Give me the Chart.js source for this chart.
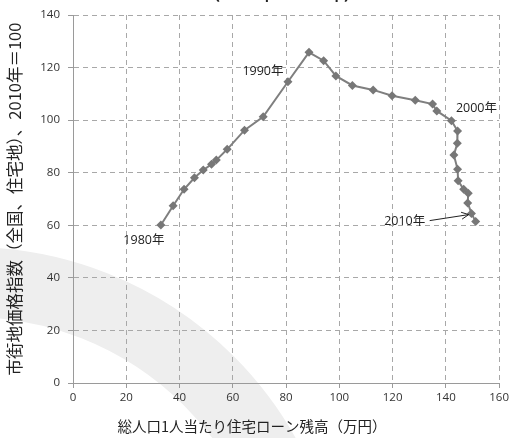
<!DOCTYPE html>
<html>
<head>
<meta charset="utf-8">
<script src="https://cdn.jsdelivr.net/npm/chart.js@4/dist/chart.umd.min.js"></script>
<style>
  html, body { margin: 0; padding: 0; background: #ffffff; }
  #wrap { width: 512px; height: 438px; }
</style>
</head>
<body>
<div id="wrap"><canvas id="c" width="512" height="438"></canvas></div>
<script>
// Housing loan balance per capita (10k yen) vs. urban land price index, 1980–2010
const years = [1980,1981,1982,1983,1984,1985,1986,1987,1988,1989,1990,
               1991,1992,1993,1994,1995,1996,1997,1998,1999,2000,
               2001,2002,2003,2004,2005,2006,2007,2008,2009,2010];
const loanBalance = [33.0,37.6,41.7,45.6,48.9,52.0,53.8,57.9,64.4,71.4,80.7,
                     88.6,94.1,98.7,104.9,112.7,119.8,128.5,135.0,136.6,142.1,
                     144.4,144.3,143.0,144.4,144.6,146.7,148.4,148.2,149.6,151.2];
const landIndex = [60.1,67.4,73.7,78.1,81.0,83.2,84.8,88.9,96.2,101.3,114.6,
                   125.8,122.6,116.8,113.2,111.5,109.3,107.6,106.1,103.5,99.8,
                   95.9,91.2,86.7,81.3,76.9,73.7,72.2,68.5,64.5,61.4];
const xTicks = [0,20,40,60,80,100,120,140,160];
const yTicks = [0,20,40,60,80,100,120,140];
const markedYears = [1980,1990,2000,2010];
const xTitle = '総人口1人当たり住宅ローン残高（万円）';
const yTitle = '市街地価格指数（全国、住宅地）、2010年＝100';
const heading = '（1980年～2010年）';

const FONT = "'Open Sans', 'Noto Sans CJK JP', sans-serif";
const CJK = "'Noto Sans CJK JP', 'Open Sans', sans-serif";

const points = loanBalance.map((x, i) => ({ x: x, y: landIndex[i] }));

// white page with a soft grey swoosh behind the plot
const backdrop = {
  id: 'backdrop',
  beforeDraw(chart) {
    const ctx = chart.ctx;
    ctx.save();
    ctx.fillStyle = '#ffffff';
    ctx.fillRect(0, 0, chart.width, chart.height);
    ctx.strokeStyle = '#eeeeee';
    ctx.lineWidth = 70;
    ctx.beginPath();
    ctx.arc(-30, 620, 338, 0, Math.PI * 2);
    ctx.stroke();
    ctx.restore();
  }
};

// heading at the top edge and the horizontal axis caption
const captions = {
  id: 'captions',
  afterDraw(chart) {
    const ctx = chart.ctx;
    ctx.save();
    ctx.fillStyle = '#222';
    ctx.textAlign = 'center';
    ctx.font = "bold 16px " + CJK;
    ctx.textBaseline = 'alphabetic';
    ctx.fillText(heading, 282, 0);
    ctx.font = "14.5px " + CJK;
    ctx.textBaseline = 'middle';
    ctx.fillText(xTitle, 252, 426);
    ctx.restore();
  }
};

// year labels next to selected points, with an arrow for the last one
const yearTags = {
  id: 'yearTags',
  afterDatasetsDraw(chart) {
    const ctx = chart.ctx;
    const xs = chart.scales.x, ys = chart.scales.y;
    const offsets = {
      1980: [-17, 15],
      1990: [-25, -10],
      2000: [25, -12],
      2010: [-71, 0]
    };
    ctx.save();
    ctx.fillStyle = '#222';
    ctx.font = "12.5px " + FONT;
    ctx.textAlign = 'center';
    ctx.textBaseline = 'middle';
    markedYears.forEach(yr => {
      const i = years.indexOf(yr);
      const px = xs.getPixelForValue(loanBalance[i]);
      const py = ys.getPixelForValue(landIndex[i]);
      const o = offsets[yr];
      ctx.fillText(yr + '年', px + o[0], py + o[1]);
      if (yr === 2010) {
        const sx = px - 46, sy = py - 1;
        const ex = px - 7, ey = py - 7;
        ctx.strokeStyle = '#222';
        ctx.lineWidth = 1;
        ctx.beginPath();
        ctx.moveTo(sx, sy);
        ctx.lineTo(ex, ey);
        ctx.stroke();
        const a = Math.atan2(ey - sy, ex - sx);
        ctx.beginPath();
        ctx.moveTo(ex - 8 * Math.cos(a - 0.45), ey - 8 * Math.sin(a - 0.45));
        ctx.lineTo(ex, ey);
        ctx.lineTo(ex - 8 * Math.cos(a + 0.45), ey - 8 * Math.sin(a + 0.45));
        ctx.stroke();
      }
    });
    ctx.restore();
  }
};

const gridOpts = {
  color: '#a8a8a8', lineWidth: 1,
  drawTicks: true, tickLength: 5, tickColor: '#9a9a9a', tickBorderDash: []
};

new Chart(document.getElementById('c'), {
  type: 'scatter',
  data: {
    datasets: [{
      data: points,
      showLine: true,
      borderColor: '#7f7f7f',
      borderWidth: 2,
      backgroundColor: '#777777',
      pointStyle: 'rectRot',
      pointRadius: 4.5,
      pointBorderWidth: 0,
      pointBackgroundColor: '#777777',
      tension: 0
    }]
  },
  options: {
    responsive: false,
    animation: false,
    devicePixelRatio: 1,
    layout: { padding: { top: 15, right: 9, left: 0, bottom: 0 } },
    plugins: {
      legend: { display: false },
      tooltip: { enabled: false }
    },
    scales: {
      x: {
        type: 'linear',
        min: 0, max: 160,
        afterFit(s) { s.height = 55; },
        afterBuildTicks(s) { s.ticks = xTicks.map(v => ({ value: v })); },
        border: { display: true, color: '#9a9a9a', width: 1, dash: [5, 4] },
        grid: gridOpts,
        ticks: { color: '#333', font: { family: FONT, size: 11.5 }, padding: 3, maxRotation: 0 },
        title: { display: false }
      },
      y: {
        type: 'linear',
        min: 0, max: 140,
        afterFit(s) { s.width = 73; },
        afterBuildTicks(s) { s.ticks = yTicks.map(v => ({ value: v })); },
        border: { display: true, color: '#9a9a9a', width: 1, dash: [5, 4] },
        grid: gridOpts,
        ticks: { color: '#333', font: { family: FONT, size: 11.5 }, padding: 8 },
        title: {
          display: true,
          text: yTitle,
          color: '#222',
          font: { family: CJK, size: 16.5 },
          padding: { top: 5, bottom: 0 }
        }
      }
    }
  },
  plugins: [backdrop, captions, yearTags]
});
</script>
</body>
</html>
